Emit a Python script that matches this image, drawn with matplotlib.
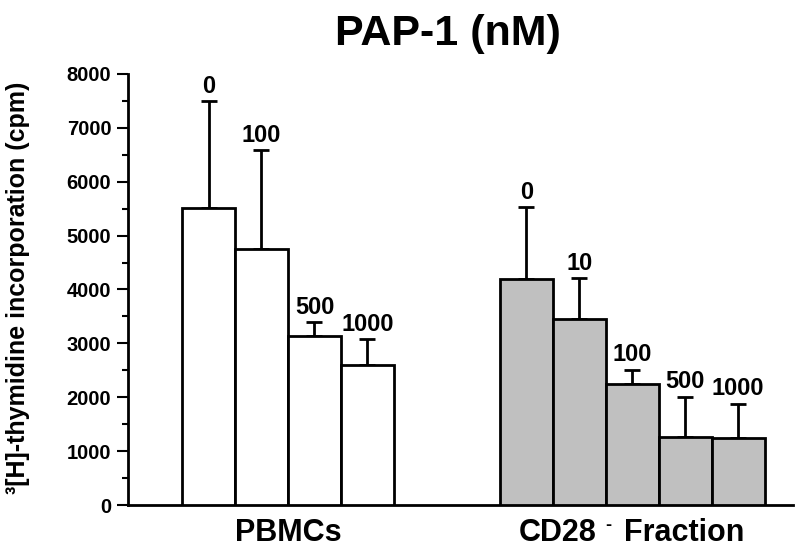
import numpy as np
import matplotlib.pyplot as plt
from matplotlib.ticker import MultipleLocator

plt.rcParams['font.family'] = ['Liberation Sans', 'DejaVu Sans']
plt.rcParams['font.weight'] = 'bold'

# PAP-1 doses (nM) and [3H]-thymidine incorporation (cpm)
pbmc_doses = ['0', '100', '500', '1000']
pbmc_mean = [5510, 4760, 3130, 2590]
pbmc_err = [1990, 1825, 260, 485]

cd28_doses = ['0', '10', '100', '500', '1000']
cd28_mean = [4190, 3460, 2250, 1265, 1250]
cd28_err = [1340, 745, 262, 745, 632]

group_names = ['PBMCs', 'CD28', 'Fraction']

pbmc_x = np.arange(len(pbmc_mean))
cd28_x = np.arange(len(cd28_mean)) + 6

fig = plt.figure(figsize=(8, 5.52), dpi=100)
ax = fig.add_axes([0.16, 0.0851, 0.831, 0.781])

lw = 2.0
ax.bar(pbmc_x, pbmc_mean, width=1.0, color='white', edgecolor='black', linewidth=lw, zorder=3)
ax.bar(cd28_x, cd28_mean, width=1.0, color='#c0c0c0', edgecolor='black', linewidth=lw, zorder=3)

for x, m, e in [(pbmc_x, pbmc_mean, pbmc_err), (cd28_x, cd28_mean, cd28_err)]:
    ax.errorbar(x, m, yerr=[np.zeros(len(e)), e], fmt='none', ecolor='black',
                elinewidth=lw, capsize=6, capthick=lw, zorder=2)

# dose labels above the error bars
for xs, m, e, labs in [(pbmc_x, pbmc_mean, pbmc_err, pbmc_doses),
                       (cd28_x, cd28_mean, cd28_err, cd28_doses)]:
    for xi, mi, ei, lab in zip(xs, m, e, labs):
        ax.annotate(lab, (xi, mi + ei), xytext=(0, 6), textcoords='offset points',
                    ha='center', va='baseline', fontsize=17, fontweight='bold')

ax.set_xlim(-1.52, 11.03)
ax.set_ylim(0, 8000)
ax.yaxis.set_major_locator(MultipleLocator(1000))
ax.yaxis.set_minor_locator(MultipleLocator(500))
ax.tick_params(axis='y', which='major', direction='out', length=8, width=1.5,
               labelsize=14.5, pad=4)
ax.tick_params(axis='y', which='minor', direction='out', length=4.5, width=1.5)
ax.set_xticks([])
for lab in ax.get_yticklabels():
    lab.set_fontweight('bold')

ax.spines['top'].set_visible(False)
ax.spines['right'].set_visible(False)
ax.spines['left'].set_linewidth(lw)
ax.spines['bottom'].set_linewidth(lw)

ax.set_ylabel('\u00b3[H]-thymidine incorporation (cpm)', fontsize=18, fontweight='bold')
ax.yaxis.set_label_coords(-0.147, 0.505)

# group labels under the x axis
pbmc_c = pbmc_x.mean()
cd28_c = cd28_x.mean()
ax.annotate(group_names[0], (pbmc_c, 0), xycoords=('data', 'axes fraction'),
            xytext=(0, -9), textcoords='offset points', ha='center', va='top',
            fontsize=22, fontweight='bold')
ax.annotate(group_names[1], (cd28_c, 0), xycoords=('data', 'axes fraction'),
            xytext=(-26, -9), textcoords='offset points', ha='right', va='top',
            fontsize=22, fontweight='bold')
ax.annotate('-', (cd28_c, 0), xycoords=('data', 'axes fraction'),
            xytext=(-17.5, -15), textcoords='offset points', ha='center', va='center',
            fontsize=13, fontweight='bold')
ax.annotate(group_names[2], (cd28_c, 0), xycoords=('data', 'axes fraction'),
            xytext=(-6, -9), textcoords='offset points', ha='left', va='top',
            fontsize=22, fontweight='bold')

fig.text(0.56, 1 - 45 / 552, 'PAP-1 (nM)', ha='center', va='baseline',
         fontsize=31, fontweight='bold')

fig.savefig('out.png', dpi=100)
